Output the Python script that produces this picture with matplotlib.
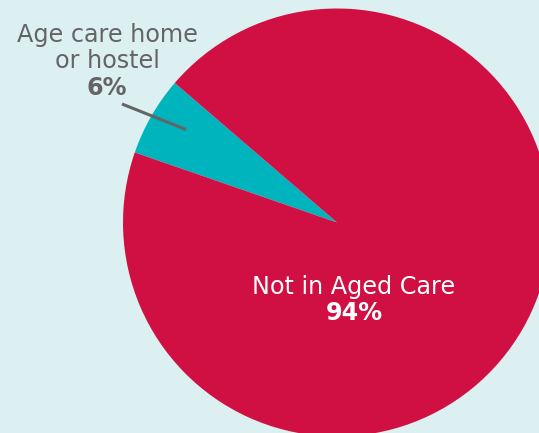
import matplotlib
matplotlib.use("Agg")
import matplotlib.pyplot as plt

labels = ["Age care home\nor hostel", "Not in Aged Care"]
values = [6, 94]
colors = ["#00b4bd", "#d01042"]

W, H = 539, 433
fig = plt.figure(figsize=(W / 100, H / 100), dpi=100)
fig.patch.set_facecolor("#dcf0f2")
ax = fig.add_axes([0, 0, 1, 1])

cx, cy, r = 337, H - 222.5, 214
ax.pie(values, colors=colors, startangle=139.3, counterclock=True,
       center=(cx, cy), radius=r, wedgeprops={"linewidth": 0},
       frame=True)
ax.set_xlim(0, W)
ax.set_ylim(0, H)
ax.set_aspect("equal")
ax.axis("off")

font = "DejaVu Sans"
grey = "#646464"
fs = 17.2
top, bottom = labels[0].split("\n")
ax.text(107, H - 35, top, ha="center", va="center",
        color=grey, fontsize=fs, family=font)
ax.text(107, H - 61, bottom, ha="center", va="center",
        color=grey, fontsize=fs, family=font)
ax.text(107, H - 88, f"{values[0]}%", ha="center", va="center",
        color=grey, fontsize=fs, family=font, fontweight="bold")
ax.plot([122, 186], [H - 104, H - 129.5], color=grey, lw=2.2, solid_capstyle="butt")

ax.text(354, H - 287, labels[1], ha="center", va="center",
        color="white", fontsize=fs, family=font)
ax.text(354, H - 313, f"{values[1]}%", ha="center", va="center",
        color="white", fontsize=fs, family=font, fontweight="bold")

fig.savefig("out.png", dpi=100, facecolor=fig.get_facecolor())
